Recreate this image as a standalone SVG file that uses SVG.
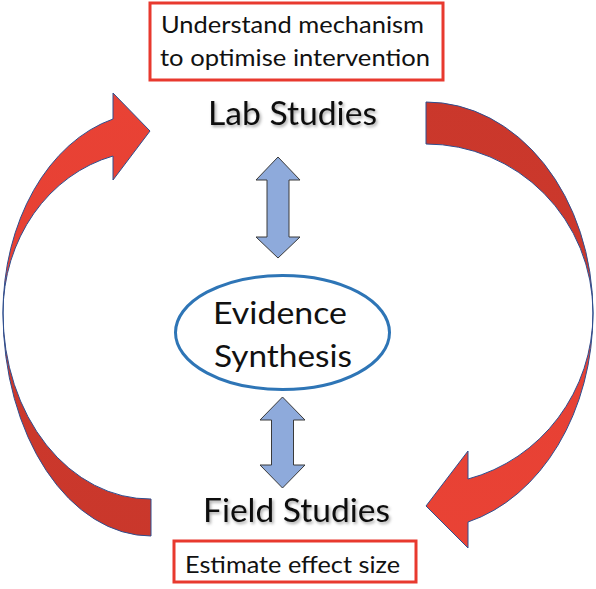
<svg xmlns="http://www.w3.org/2000/svg" width="596" height="589" viewBox="0 0 596 589">
<style>
  .t { font-family: Lato, "Liberation Sans", sans-serif; fill: #111; }
  .box { fill: #fff; stroke: #E8392E; stroke-width: 3; }
  .red { stroke: #2F4F8F; stroke-width: 1; stroke-linejoin: miter; }
  .blue { fill: #8EAADB; stroke: #3a3a3a; stroke-width: 1; }
</style>
<defs>
  <linearGradient id="gl" gradientUnits="userSpaceOnUse" x1="0" y1="0" x2="0" y2="589">
    <stop offset="0" stop-color="#EA4335"/>
    <stop offset="0.52" stop-color="#E64034"/>
    <stop offset="0.6" stop-color="#CC382C"/>
    <stop offset="1" stop-color="#C9372B"/>
  </linearGradient>
  <linearGradient id="gr" gradientUnits="userSpaceOnUse" x1="0" y1="0" x2="0" y2="589">
    <stop offset="0" stop-color="#C9372B"/>
    <stop offset="0.48" stop-color="#CC382C"/>
    <stop offset="0.58" stop-color="#E64034"/>
    <stop offset="1" stop-color="#EA4335"/>
  </linearGradient>
  <filter id="sh" x="-10%" y="-20%" width="130%" height="160%">
    <feDropShadow dx="1.5" dy="2" stdDeviation="1.5" flood-color="#000" flood-opacity="0.35"/>
  </filter>
</defs>

<g id="connectors">
  <path id="arrow-left" class="red" fill="url(#gl)" d="M113,119 L113,93 L150,131 L113,180 L113,156 A147 162 0 0 0 3,313 A147 186 0 0 0 151,499 L151,536 A148 223 0 0 1 3,313 A147 200 0 0 1 113,119 Z"/>
  <path id="arrow-right" class="red" fill="url(#gr)" d="M426,102 A167 211 0 0 1 593,313 A167 216 0 0 1 468,522 L468,548 L426,506 L468,451 L468,479 A167 171.5 0 0 0 593,313 A167 169 0 0 0 426,144 Z"/>
  <path id="arrow-lab-evidence" class="blue" d="M278,157 L300,180 L289,180 L289,237 L300,237 L278,258 L256,237 L267,237 L267,180 L256,180 Z"/>
  <path id="arrow-evidence-field" class="blue" d="M282.5,397 L305,420 L293.5,420 L293.5,465 L305,465 L282.5,488 L260,465 L271.5,465 L271.5,420 L260,420 Z"/>
</g>

<g id="note-top">
  <rect class="box" x="150" y="3" width="293" height="77"/>
  <text class="t" x="161" y="33" font-size="24" textLength="263" lengthAdjust="spacingAndGlyphs">Understand mechanism</text>
  <text class="t" x="160" y="66" font-size="24" textLength="270" lengthAdjust="spacingAndGlyphs">to optimise intervention</text>
</g>

<g id="lab-studies">
  <text class="t" x="208" y="125" font-size="33" textLength="169" lengthAdjust="spacingAndGlyphs" filter="url(#sh)">Lab Studies</text>
</g>

<g id="evidence-synthesis">
  <ellipse cx="282.5" cy="332.5" rx="107" ry="57" fill="#fff" stroke="#2E75B6" stroke-width="3"/>
  <text class="t" x="213" y="324" font-size="31" textLength="134" lengthAdjust="spacingAndGlyphs">Evidence</text>
  <text class="t" x="214" y="367" font-size="31" textLength="138" lengthAdjust="spacingAndGlyphs">Synthesis</text>
</g>

<g id="field-studies">
  <text class="t" x="203" y="522" font-size="33" textLength="187" lengthAdjust="spacingAndGlyphs" filter="url(#sh)">Field Studies</text>
</g>

<g id="note-bottom">
  <rect class="box" x="174" y="541" width="242" height="41"/>
  <text class="t" x="185" y="573" font-size="24" textLength="215" lengthAdjust="spacingAndGlyphs">Estimate effect size</text>
</g>
</svg>
